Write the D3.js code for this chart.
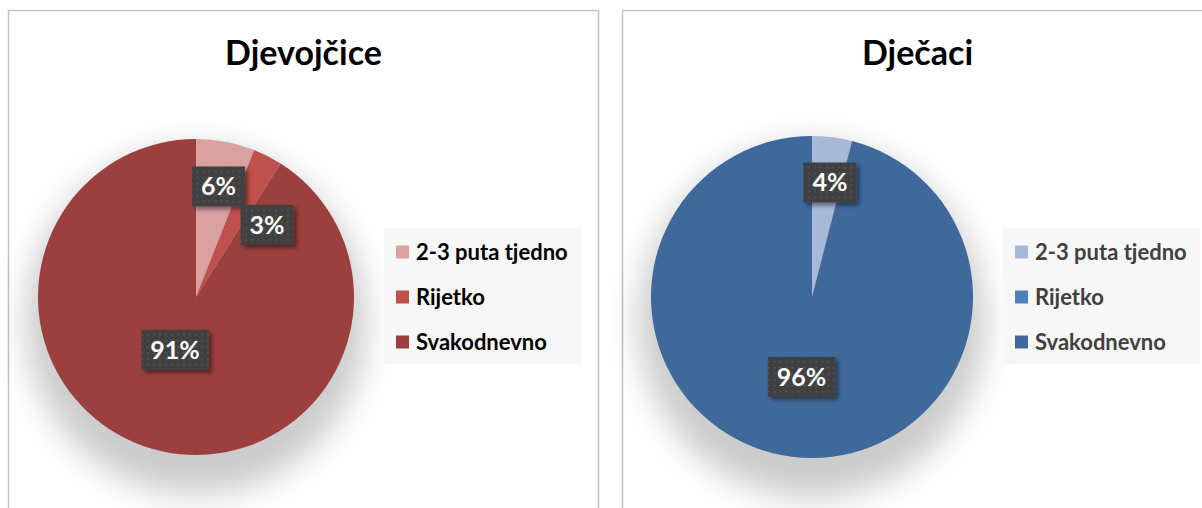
<!DOCTYPE html>
<html>
<head>
<meta charset="utf-8">
<script src="https://cdn.jsdelivr.net/npm/d3@7"></script>
<style>
  html, body { margin: 0; padding: 0; background: #fff; }
  svg { display: block; }
  text { font-family: Lato, "Open Sans", sans-serif; font-weight: 700; }
</style>
</head>
<body>
<svg id="chart" width="1202" height="508"></svg>
<script>
// ---- data ----
const categories = ["2-3 puta tjedno", "Rijetko", "Svakodnevno"];
const titles = ["Djevojčice", "Dječaci"];
const girlsValues = [6, 3, 91];
const boysValues = [4, 0, 96];
const labelFormat = v => v + "%";

// ---- styles / layout ----
const girlsColors = ["#D9A2A1", "#C0504D", "#9B403E"];
const boysColors = ["#A8B9D8", "#4F81BD", "#3F699B"];
// label placement: [angle shift in degrees, fraction of radius]
const girlsLabelPlace = [[0.7, 0.714], [17.6, 0.64], [5.4, 0.36]];
const boysLabelPlace = [[1.7, 0.72], [0, 0], [0.3, 0.5]];

const panels = [
  { title: titles[0], values: girlsValues, colors: girlsColors, place: girlsLabelPlace,
    x: 8.5, cx: 196, cy: 297, r: 158, legendX: 384, legendColor: "#000000" },
  { title: titles[1], values: boysValues, colors: boysColors, place: boysLabelPlace,
    x: 622.5, cx: 812, cy: 297, r: 161, legendX: 1003, legendColor: "#404040" }
];
const panelW = 590, panelY = 10.5, panelH = 520;

const svg = d3.select("#chart");
const defs = svg.append("defs");

// dotted pattern for label boxes
const pat = defs.append("pattern").attr("id", "dots").attr("patternUnits", "userSpaceOnUse")
  .attr("width", 6).attr("height", 6);
pat.append("rect").attr("width", 6).attr("height", 6).attr("fill", "#404040");
pat.append("circle").attr("cx", 3).attr("cy", 3).attr("r", 1).attr("fill", "#555555");

// pie shadow blur
const blur = defs.append("filter").attr("id", "pieShadow")
  .attr("x", "-50%").attr("y", "-50%").attr("width", "200%").attr("height", "200%");
blur.append("feGaussianBlur").attr("stdDeviation", 16);

// label box shadow
const ls = defs.append("filter").attr("id", "boxShadow")
  .attr("x", "-30%").attr("y", "-30%").attr("width", "160%").attr("height", "160%");
ls.append("feDropShadow").attr("dx", 3).attr("dy", 3).attr("stdDeviation", 2)
  .attr("flood-color", "#000").attr("flood-opacity", 0.45);

const pie = d3.pie().sort(null).value(d => d).startAngle(0).endAngle(2 * Math.PI);

panels.forEach(p => {
  const g = svg.append("g");
  // panel border
  g.append("rect").attr("x", p.x).attr("y", panelY).attr("width", panelW).attr("height", panelH)
    .attr("fill", "#fff").attr("stroke", "#C4C4C4").attr("stroke-width", 1.5);

  // title
  g.append("text").attr("x", p.x + panelW / 2).attr("y", 65)
    .attr("text-anchor", "middle").attr("font-size", 34).attr("fill", "#000")
    .text(p.title);

  // pie shadow
  g.append("ellipse").attr("cx", p.cx).attr("cy", p.cy + 24)
    .attr("rx", p.r * 1.08).attr("ry", p.r * 1.1)
    .attr("fill", "#000").attr("opacity", 0.2).attr("filter", "url(#pieShadow)");

  const arcs = pie(p.values);
  const arc = d3.arc().innerRadius(0).outerRadius(p.r);
  const pg = g.append("g").attr("transform", `translate(${p.cx},${p.cy})`);
  pg.selectAll("path").data(arcs).join("path")
    .attr("d", arc).attr("fill", (d, i) => p.colors[i]);

  // labels
  const lg = pg.selectAll("g.lab").data(arcs.filter(d => d.data > 0)).join("g").attr("class", "lab")
    .attr("transform", d => {
      const i = d.index;
      const [shift, k] = p.place[i];
      const a = (d.startAngle + d.endAngle) / 2 + shift * Math.PI / 180;
      const [x, y] = d3.pointRadial(a, p.r * k);
      return `translate(${x},${y})`;
    });
  lg.append("rect").attr("fill", "url(#dots)").attr("filter", "url(#boxShadow)");
  const texts = lg.append("text").attr("text-anchor", "middle").attr("dy", "0.36em")
    .attr("font-size", 25).attr("fill", "#fff").text(d => labelFormat(d.data));
  texts.each(function () {
    const w = this.getComputedTextLength() + 18;
    d3.select(this.parentNode).select("rect")
      .attr("x", -w / 2).attr("y", -20).attr("width", w).attr("height", 40);
  });

  // legend
  const leg = g.append("g").attr("transform", `translate(${p.legendX},228)`);
  leg.append("rect").attr("width", 197).attr("height", 136).attr("fill", "#F7F7F7");
  const items = leg.selectAll("g.item").data(categories).join("g").attr("class", "item")
    .attr("transform", (d, i) => `translate(12,${24 + i * 45})`);
  items.append("rect").attr("y", -6.5).attr("width", 13).attr("height", 13)
    .attr("fill", (d, i) => p.colors[i]);
  items.append("text").attr("x", 20).attr("dy", "0.35em").attr("font-size", 22)
    .attr("fill", p.legendColor).text(d => d);
});
</script>
</body>
</html>
